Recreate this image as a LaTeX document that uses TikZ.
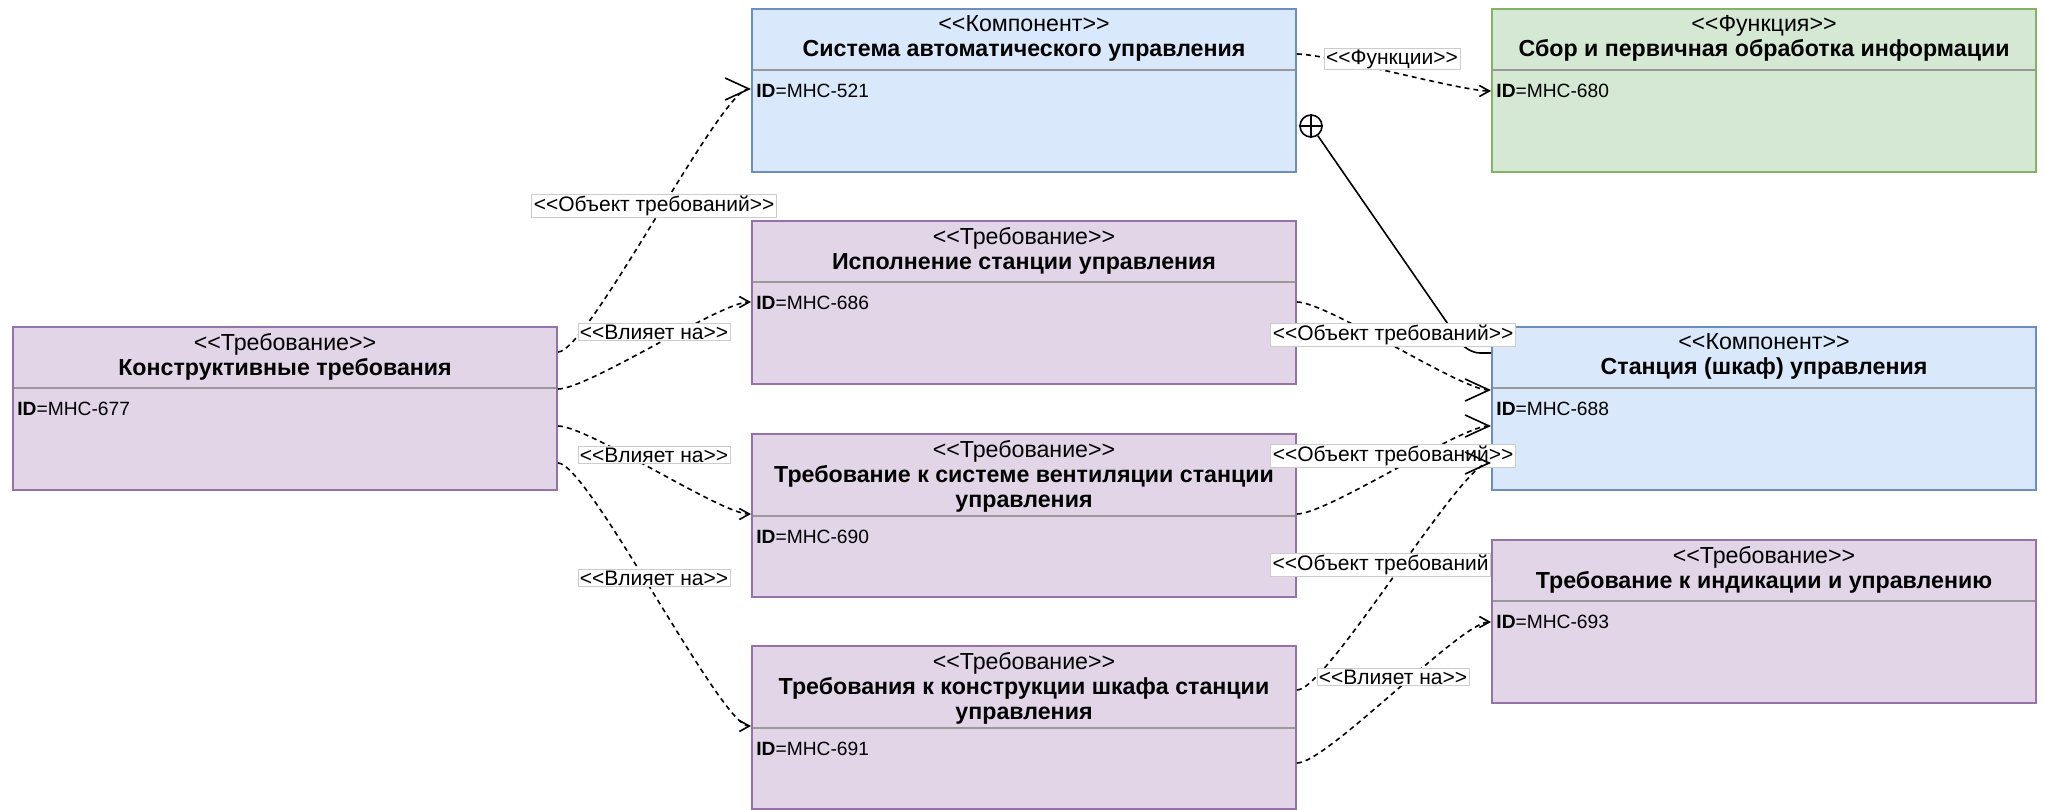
\documentclass[tikz,border=0pt]{standalone}
\usepackage{fontspec}
\setmainfont{Liberation Sans}
\usetikzlibrary{arrows.meta,calc}

\definecolor{compfill}{HTML}{DAE8FC}
\definecolor{compline}{HTML}{6C8EBF}
\definecolor{reqfill}{HTML}{E1D5E7}
\definecolor{reqline}{HTML}{9673A6}
\definecolor{funcfill}{HTML}{D5E8D4}
\definecolor{funcline}{HTML}{82B366}

\newcommand\stereo[1]{<\kern0pt<#1>\kern0pt>}

\tikzset{
  block/.style={draw, line width=1pt, minimum width=272pt, minimum height=81.5pt, anchor=north west, inner sep=0pt},
  comp/.style={block, fill=compfill, draw=compline},
  req/.style={block, fill=reqfill, draw=reqline},
  func/.style={block, fill=funcfill, draw=funcline},
  head/.style={anchor=north, align=center, inner sep=0pt, font=\fontsize{11.6}{12.6}\selectfont},
  idtext/.style={anchor=west, inner sep=0pt, font=\fontsize{9.6}{11}\selectfont},
  divider/.style={black!40, line width=1.2pt},
  rel/.style={line width=0.8pt, dash pattern=on 2.5pt off 2pt},
  affects/.style={rel, -{Straight Barb[length=5pt,width=5.5pt]}},
  target/.style={rel, -{Straight Barb[length=12pt,width=11pt]}},
  tag/.style={fill=white, draw=black!20, line width=0.4pt, inner xsep=1pt, inner ysep=0.6pt, font=\fontsize{10.5}{12.5}\selectfont},
  owncirc/.style={draw, circle, line width=0.8pt, minimum size=11pt, inner sep=0pt},
  owns/.style={line width=0.8pt, rounded corners=6pt},
}

% name, style, x, y, divider offset, stereotype, title, id
\newcommand\umlblock[8]{%
  \node[#2] (#1) at (#3,#4) {};
  \draw[divider] ($(#1.north west)+(2,#5)$) -- ($(#1.north east)+(-2,#5)$);
  \node[head] (#1-head) at ($(#1.north)+(0,7)$) {\stereo{#6}\\#7};
  \node[idtext] (#1-id) at ($(#1.north west)+(5,#5+21)$) {\textbf{ID}=#8};
}

\begin{document}
\begin{tikzpicture}[x=0.5pt,y=-0.5pt]
\useasboundingbox (0,0) rectangle (2045,809);

% blocks
\umlblock{kt}{req}{12}{326}{62}{Требование}{\textbf{Конструктивные требования}}{МНС-677}
\umlblock{sau}{comp}{751}{8}{62}{Компонент}{\textbf{Система автоматического управления}}{МНС-521}
\umlblock{isp}{req}{751}{220}{62}{Требование}{\textbf{Исполнение станции управления}}{МНС-686}
\umlblock{vent}{req}{751}{433}{83}{Требование}{\textbf{Требование к системе вентиляции станции}\\\textbf{управления}}{МНС-690}
\umlblock{kon}{req}{751}{645}{83}{Требование}{\textbf{Требования к конструкции шкафа станции}\\\textbf{управления}}{МНС-691}
\umlblock{fn}{func}{1491}{8}{62}{Функция}{\textbf{Сбор и первичная обработка информации}}{МНС-680}
\umlblock{st}{comp}{1491}{326}{62}{Компонент}{\textbf{Станция (шкаф) управления}}{МНС-688}
\umlblock{ind}{req}{1491}{539}{62}{Требование}{\textbf{Требование к индикации и управлению}}{МНС-693}

% links from the left requirement
\draw[target] ($(kt.north east)+(0,26)$) to[out=0,in=180,distance=15pt] ($(sau.north west)+(0,81)$);
\node[tag] (l1) at (654,206) {\stereo{Объект требований}};
\draw[affects] ($(kt.north east)+(0,63)$) to[out=0,in=180,distance=15pt] ($(isp.north west)+(0,82)$);
\node[tag] (l2) at (654,332) {\stereo{Влияет на}};
\draw[affects] ($(kt.north east)+(0,100)$) to[out=0,in=180,distance=15pt] ($(vent.north west)+(0,81)$);
\node[tag] (l3) at (654,455) {\stereo{Влияет на}};
\draw[affects] ($(kt.north east)+(0,137)$) to[out=0,in=180,distance=15pt] ($(kon.north west)+(0,81)$);
\node[tag] (l4) at (654,578) {\stereo{Влияет на}};

% component to function
\draw[affects] ($(sau.north east)+(0,46)$) to[out=0,in=180,distance=15pt] ($(fn.north west)+(0,83)$);
\node[tag] (l5) at (1392,59) {\stereo{Функции}};

% containment
\node[owncirc] (own) at ($(sau.north east)+(14,118)$) {};
\draw[line width=0.8pt] (own.north) -- (own.south) (own.west) -- (own.east);
\draw[owns] (own.-55) -- ($(st.north west)+(-23,27)$) -- ($(st.north west)+(0,27)$);

% links to the station
\draw[target] ($(isp.north east)+(0,82)$) to[out=0,in=180,distance=15pt] ($(st.north west)+(0,64)$);
\node[tag] (l7) at (1393,335) {\stereo{Объект требований}};
\draw[target] ($(vent.north east)+(0,81)$) to[out=0,in=180,distance=15pt] ($(st.north west)+(0,100)$);
\node[tag] (l8) at (1393,456) {\stereo{Объект требований}};
\draw[target] ($(kon.north east)+(0,45)$) to[out=0,in=180,distance=15pt] ($(st.north west)+(0,137)$);
\node[tag, anchor=east] (l9) at ($(ind.north west)+(0,26)$) {<\kern0pt<Объект требований};
\draw[affects] ($(kon.north east)+(0,118)$) to[out=0,in=180,distance=15pt] ($(ind.north west)+(0,83)$);
\node[tag] (l10) at (1393,677) {\stereo{Влияет на}};
\end{tikzpicture}
\end{document}
